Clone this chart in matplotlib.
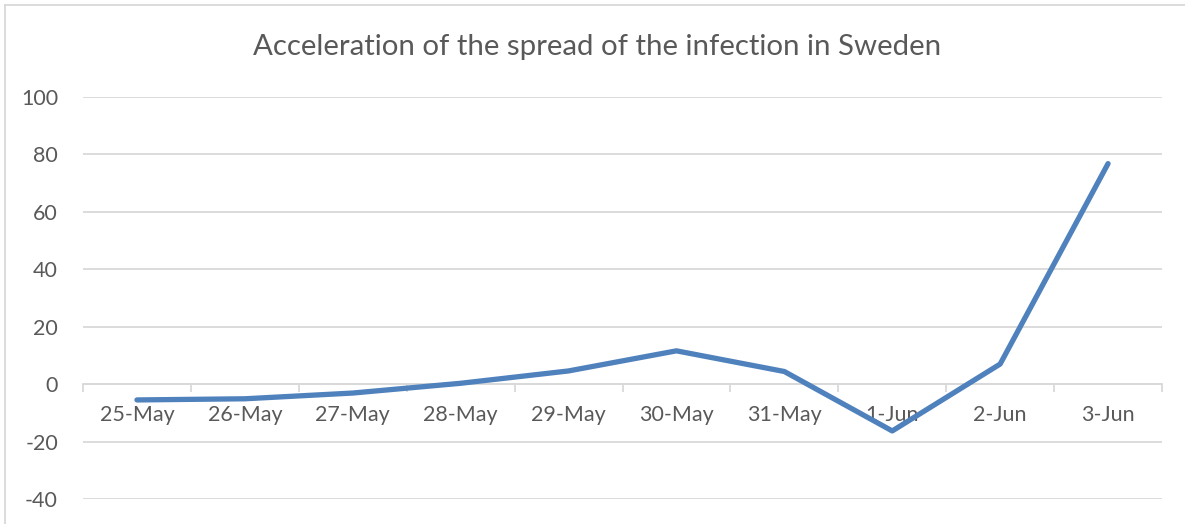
import numpy as np
import matplotlib
matplotlib.use("Agg")
import matplotlib.pyplot as plt
from matplotlib.lines import Line2D

# data
dates = ["25-May", "26-May", "27-May", "28-May", "29-May",
         "30-May", "31-May", "1-Jun", "2-Jun", "3-Jun"]
accel = [-5.5, -5.1, -3.1, 0.3, 4.6, 11.6, 4.4, -16.3, 7.0, 76.8]
yticks = [-40, -20, 0, 20, 40, 60, 80, 100]

grey_txt = "#595959"
grid_col = "#d9d9d9"
line_col = "#4f81bd"

plt.rcParams["font.family"] = ["Lato", "DejaVu Sans"]

fig = plt.figure(figsize=(11.85, 5.24), dpi=100)
ax = fig.add_axes([83 / 1185, 1 - 499 / 524, (1162 - 83) / 1185, (499 - 97) / 524])

x = np.arange(len(dates))
ax.plot(x, accel, color=line_col, lw=3.8, solid_capstyle="round",
        solid_joinstyle="round", zorder=3)

ax.set_xlim(-0.5, len(dates) - 0.5)
ax.set_ylim(-40, 100)
ax.set_yticks(yticks)
ax.set_yticklabels([str(v) for v in yticks])
ax.grid(axis="y", color=grid_col, lw=1.3)
ax.set_axisbelow(True)

for s in ["top", "right", "left"]:
    ax.spines[s].set_visible(False)
ax.spines["bottom"].set_position(("data", 0))
ax.spines["bottom"].set_color(grid_col)
ax.spines["bottom"].set_linewidth(1.3)

ax.set_xticks(x)
ax.set_xticklabels(dates)
ax.set_xticks(np.arange(len(dates) + 1) - 0.5, minor=True)
ax.tick_params(axis="x", which="major", length=0, pad=15,
               labelsize=15.5, labelcolor=grey_txt)
ax.tick_params(axis="x", which="minor", length=6, width=1.3,
               color=grid_col, direction="out")
ax.tick_params(axis="y", length=0, pad=18, labelsize=15.5,
               labelcolor=grey_txt)

fig.text(597 / 1185, 1 - 47 / 524,
         "Acceleration of the spread of the infection in Sweden",
         ha="center", va="center", fontsize=21.2, color=grey_txt)

# outer chart border (left and top visible)
fig.add_artist(Line2D([5 / 1185, 5 / 1185], [0, 1 - 5 / 524],
                      transform=fig.transFigure, color=grid_col, lw=1.3))
fig.add_artist(Line2D([5 / 1185, 1], [1 - 5 / 524, 1 - 5 / 524],
                      transform=fig.transFigure, color=grid_col, lw=1.3))

fig.savefig("out.png", dpi=100, facecolor="white")
